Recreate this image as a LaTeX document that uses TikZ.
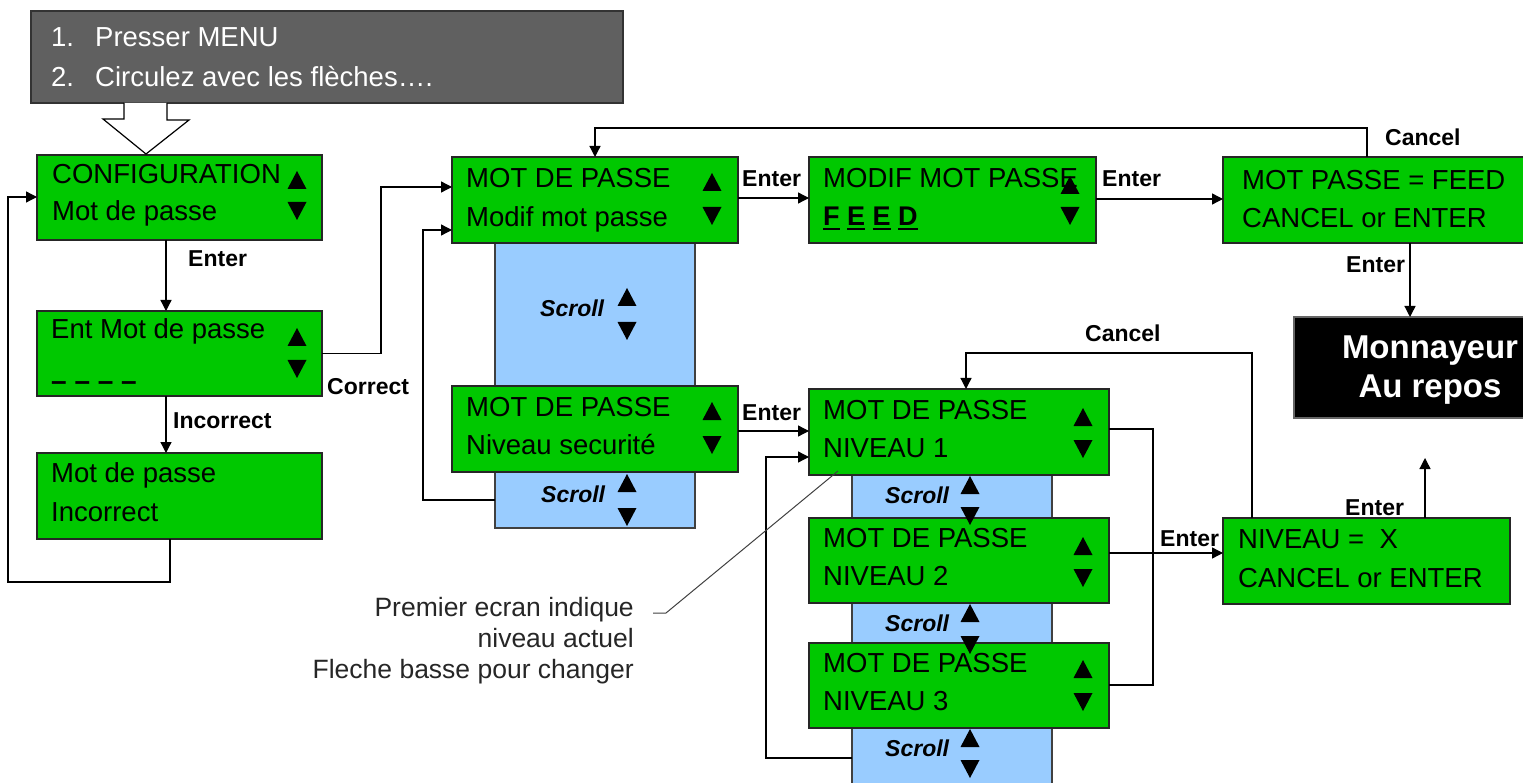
\documentclass[tikz,border=0pt]{standalone}
\usepackage{fontspec}
\setmainfont{Liberation Sans}
\usetikzlibrary{arrows.meta,calc}
\definecolor{lcdgreen}{RGB}{0,200,0}
\definecolor{scrollblue}{RGB}{153,204,255}
\definecolor{menugray}{RGB}{96,96,96}
\newcommand\myul[1]{\leavevmode\vtop{\hbox{#1}\kern2pt\hrule height 2.5pt}}
\begin{document}
\begin{tikzpicture}[x=1pt,y=-1pt,
  box/.style={draw=black!85, line width=1.2pt, fill=lcdgreen, inner sep=0pt, outer sep=0pt, anchor=north west},
  scrollcol/.style={draw=black!75, line width=1.2pt, fill=scrollblue, inner sep=0pt, outer sep=0pt, anchor=north west},
  txt/.style={anchor=base west, inner sep=0pt, font=\fontsize{27.5pt}{33pt}\selectfont},
  lbl/.style={anchor=base west, inner sep=0pt, font=\bfseries\fontsize{23pt}{27pt}\selectfont},
  scr/.style={anchor=base west, inner sep=0pt, font=\bfseries\itshape\fontsize{23pt}{27pt}\selectfont},
  note/.style={anchor=base east, inner sep=0pt, font=\fontsize{26.5pt}{31pt}\selectfont, text=black!85},
  conn/.style={draw=black, line width=1.3pt},
  arr/.style={conn, -{Triangle[length=11pt,width=11pt]}},
  uptri/.pic={\fill (-9.5,9) -- (9.5,9) -- (0,-9) -- cycle;},
  dntri/.pic={\fill (-9.5,-9) -- (9.5,-9) -- (0,9) -- cycle;},
]
\useasboundingbox (0,0) rectangle (1523,783);

% menu box
\node[draw=black!80, fill=menugray, line width=1.2pt, inner sep=0pt, outer sep=0pt, anchor=north west,
      minimum width=592pt, minimum height=92pt] (menu) at (31,11) {};
\node[txt, text=white] (m1n) at (51,47) {1.};
\node[txt, text=white] (m1t) at (95,47) {Presser MENU};
\node[txt, text=white] (m2n) at (51,87) {2.};
\node[txt, text=white] (m2t) at (95,87) {Circulez avec les flèches….};

% scroll columns
\node[scrollcol, minimum width=200pt, minimum height=285pt] (col1) at (495,243) {};
\node[scrollcol, minimum width=200pt, minimum height=330pt] (col2) at (852,475) {};

% green boxes
\node[box, minimum width=285pt, minimum height=85pt] (cfg) at (37,155) {};
\node[box, minimum width=285pt, minimum height=85pt] (ent) at (37,311) {};
\node[box, minimum width=285pt, minimum height=86pt] (inc) at (37,453) {};
\node[box, minimum width=286pt, minimum height=86pt] (mdp1) at (452,157) {};
\node[box, minimum width=287pt, minimum height=86pt] (modif) at (809,157) {};
\node[box, minimum width=310pt, minimum height=86pt] (mpf) at (1223,157) {};
\node[box, minimum width=286pt, minimum height=86pt] (mdp2) at (452,386) {};
\node[box, minimum width=300pt, minimum height=86pt] (niv1) at (809,389) {};
\node[box, minimum width=300pt, minimum height=85pt] (niv2) at (809,518) {};
\node[box, minimum width=300pt, minimum height=85pt] (niv3) at (809,643) {};
\node[box, minimum width=287pt, minimum height=86pt] (nivx) at (1223,518) {};
\node[draw=black!60, fill=black, line width=1.2pt, inner sep=0pt, outer sep=0pt, anchor=north west,
      minimum width=240pt, minimum height=101pt] (monn) at (1294,317) {};

% box texts
\node[txt] (cfgA) at (52,184) {CONFIGURATION};
\node[txt] (cfgB) at (52,221) {Mot de passe};
\node[txt] (entA) at (51,339) {Ent Mot de passe};
\node[txt, font=\bfseries\fontsize{28pt}{33pt}\selectfont] (entB) at (51,391) {– – – –};
\node[txt] (incA) at (51,482) {Mot de passe};
\node[txt] (incB) at (51,521) {Incorrect};
\node[txt] (mdp1A) at (466,188) {MOT DE PASSE};
\node[txt] (mdp1B) at (466,227) {Modif mot passe};
\node[txt] (modifA) at (823,188) {MODIF MOT PASSE};
\node[txt, font=\bfseries\fontsize{27pt}{32pt}\selectfont] (modifB) at (823,226) {\myul{F} \myul{E} \myul{E} \myul{D}};
\node[txt] (mpfA) at (1242,190) {MOT PASSE = FEED};
\node[txt] (mpfB) at (1242,228) {CANCEL or ENTER};
\node[txt] (mdp2A) at (466,416) {MOT DE PASSE};
\node[txt] (mdp2B) at (466,454) {Niveau securité};
\node[txt] (niv1A) at (823,419) {MOT DE PASSE};
\node[txt] (niv1B) at (823,457) {NIVEAU 1};
\node[txt] (niv2A) at (823,547) {MOT DE PASSE};
\node[txt] (niv2B) at (823,585) {NIVEAU 2};
\node[txt] (niv3A) at (823,672) {MOT DE PASSE};
\node[txt] (niv3B) at (823,710) {NIVEAU 3};
\node[txt] (nivxA) at (1238,548) {NIVEAU =\ \ X};
\node[txt] (nivxB) at (1238,587) {CANCEL or ENTER};
\node[anchor=base, inner sep=0pt, text=white, font=\bfseries\fontsize{33pt}{38pt}\selectfont] (monnA) at (1430,359) {Monnayeur};
\node[anchor=base, inner sep=0pt, text=white, font=\bfseries\fontsize{33pt}{38pt}\selectfont] (monnB) at (1430,398) {Au repos};

% box arrows
\pic at (297,180) {uptri}; \pic at (297,211) {dntri};
\pic at (297,337) {uptri}; \pic at (297,369) {dntri};
\pic at (712,182) {uptri}; \pic at (712,216) {dntri};
\pic at (1070,185) {uptri}; \pic at (1070,216) {dntri};
\pic at (712,411) {uptri}; \pic at (712,445) {dntri};
\pic at (1083,417) {uptri}; \pic at (1083,449) {dntri};
\pic at (1083,546) {uptri}; \pic at (1083,578) {dntri};
\pic at (1083,669) {uptri}; \pic at (1083,702) {dntri};

% scroll labels
\node[scr] (s1) at (540,317) {Scroll};
\pic at (627,297) {uptri}; \pic at (627,331) {dntri};
\node[scr] (s2) at (541,502) {Scroll};
\pic at (627,483) {uptri}; \pic at (627,517) {dntri};
\node[scr] (s3) at (885,503) {Scroll};
\pic at (970,485) {uptri}; \pic at (970,516) {dntri};
\node[scr] (s4) at (885,631) {Scroll};
\pic at (970,613) {uptri}; \pic at (970,645) {dntri};
\node[scr] (s5) at (885,756) {Scroll};
\pic at (970,738) {uptri}; \pic at (970,769) {dntri};

% hollow arrow from menu to configuration
\coordinate (htip) at ($(cfg.north west)+(109,-1)$);
\draw[line width=1.2pt, fill=white] ($(menu.south west)+(93,0)$) -- ++(0,16) -- ++(-21,0)
  -- (htip) -- ++(43,-34) -- ++(-22,0) -- ($(menu.south west)+(136,0)$);

% connectors
\draw[arr] ($(cfg.south west)+(129,0)$) -- ($(ent.north west)+(129,0)$);
\draw[arr] ($(ent.south west)+(129,0)$) -- ($(inc.north west)+(129,0)$);
\draw[arr] ($(inc.south west)+(133,0)$) -- ++(0,43) -| ($(cfg.north west)+(-29,42)$) -- ($(cfg.north west)+(0,42)$);
\draw[arr] (ent.east) -- ++(59,0) |- ($(mdp1.north west)+(0,30)$);
\draw[arr] ($(col1.north west)+(0,257)$) -- ++(-72,0) |- ($(mdp1.north west)+(0,73)$);
\draw[arr] ($(mdp1.north east)+(0,41)$) -- ($(modif.north west)+(0,41)$);
\draw[arr] ($(modif.north east)+(0,42)$) -- ($(mpf.north west)+(0,42)$);
\draw[arr] ($(mpf.north west)+(144,0)$) -- ++(0,-29) -| ($(mdp1.north west)+(143,0)$);
\draw[arr] ($(mpf.south west)+(187,0)$) -- ($(monn.north west)+(116,0)$);
\draw[arr] ($(mdp2.north east)+(0,45)$) -- ($(niv1.north west)+(0,42)$);
\draw[arr] ($(col2.north west)+(0,283)$) -- ++(-86,0) |- ($(niv1.north west)+(0,68)$);
\draw[arr] ($(nivx.north west)+(29,0)$) -- ++(0,-165) -| ($(niv1.north west)+(157,0)$);
\draw[conn] ($(niv1.north east)+(0,40)$) -- ++(44,0) |- ($(niv3.north east)+(0,42)$);
\draw[arr] ($(niv2.north east)+(0,35)$) -- ($(nivx.north west)+(0,35)$);
\coordinate (upend) at ($(nivx.north west)+(202,-60)$);
\draw[arr] ($(nivx.north west)+(202,0)$) -- (upend);

% connector labels
\node[lbl] (l1) at (188,267) {Enter};
\node[lbl] (l2) at (327,395) {Correct};
\node[lbl] (l3) at (173,428) {Incorrect};
\node[lbl] (l4) at (742,187) {Enter};
\node[lbl] (l5) at (742,420) {Enter};
\node[lbl] (l6) at (1102,187) {Enter};
\node[lbl] (l7) at (1385,146) {Cancel};
\node[lbl] (l8) at (1346,273) {Enter};
\node[lbl] (l9) at (1085,342) {Cancel};
\node[lbl] (l10) at (1160,546) {Enter};
\node[lbl] (l11) at (1345,515) {Enter};

% annotation
\node[note] (n1) at (634,616) {Premier ecran indique};
\node[note] (n2) at (634,647) {niveau actuel};
\node[note] (n3) at (634,678) {Fleche basse pour changer};
\draw[black!75, line width=1pt] ($(n1.base east)+(19,-3)$) -- ++(13,0) -- ($(niv1.south west)+(29,-4)$);
\end{tikzpicture}
\end{document}
